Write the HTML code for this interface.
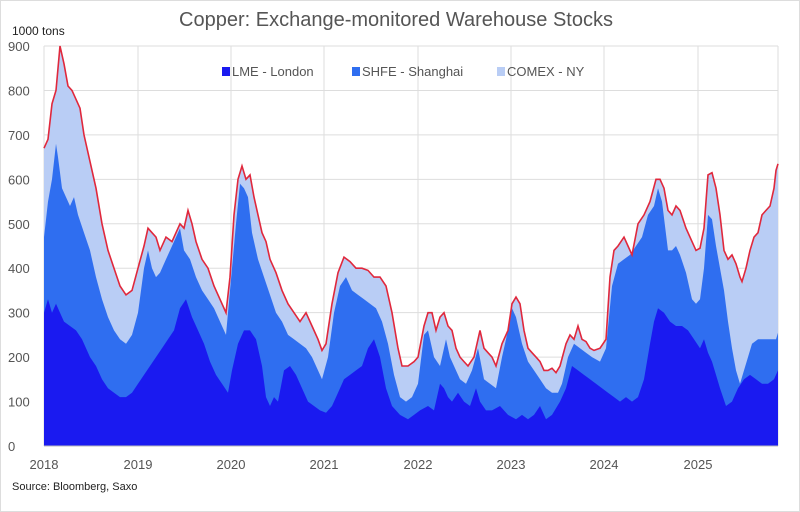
<!DOCTYPE html>
<html><head><meta charset="utf-8"><style>
body{margin:0;background:#fff;}
svg{display:block;font-family:"Liberation Sans",sans-serif;}
</style></head><body>
<svg id="s" width="800" height="512" viewBox="0 0 800 512">
<rect x="0.5" y="0.5" width="799" height="511" fill="#fff" stroke="#ddd"/>
<text x="396" y="26" text-anchor="middle" font-size="20" fill="#555">Copper: Exchange-monitored Warehouse Stocks</text>
<text x="12" y="35" font-size="12" fill="#222">1000 tons</text>
<g id="grid" stroke="#ddd" stroke-width="1"></g>
<g id="areas"></g>
<g font-size="13" fill="#555" id="labels"></g>
<g font-size="13" fill="#555">
<rect x="222" y="67" width="8" height="9" fill="#1a1af0"/><text x="232" y="76">LME - London</text>
<rect x="352" y="67" width="8" height="9" fill="#2f6ef0"/><text x="362" y="76">SHFE - Shanghai</text>
<rect x="497" y="67" width="8" height="9" fill="#b9cdf5"/><text x="507" y="76">COMEX - NY</text>
</g>
<text x="12" y="490" font-size="11" fill="#222">Source: Bloomberg, Saxo</text>
</svg>
<script>
const X0=44,Y0=446,K=400/900;
const yv=v=>Y0-v*K;
function P(s){return s.trim().split(/\s+/).map(p=>p.split(':').map(Number));}
const tot=P(`44:670 48:690 52:770 56:800 60:900 64:860 68:810 72:800 76:780 80:760 84:700 90:640 96:580 102:500 108:440 114:400 120:360 126:340 132:350 138:400 144:450 148:490 152:480 156:470 160:440 166:470 172:460 176:480 180:500 184:490 188:530 192:500 196:460 202:420 208:400 214:360 220:330 226:300 230:380 234:520 238:600 242:630 246:600 250:610 254:560 258:520 262:480 266:460 270:420 276:390 282:350 288:320 294:300 300:280 306:300 312:270 318:240 322:215 326:230 332:320 338:390 344:425 350:415 356:400 362:400 368:395 374:380 380:380 386:360 392:300 398:220 402:180 408:180 414:190 418:200 424:270 428:300 432:300 436:260 440:290 444:300 448:270 452:260 456:220 460:200 464:190 468:180 474:200 480:260 484:220 488:210 492:200 496:180 502:230 508:260 512:320 516:335 520:320 524:260 528:220 532:210 536:200 540:190 544:170 548:170 552:175 556:165 560:180 566:230 570:250 574:240 578:270 582:240 586:235 590:220 594:215 600:220 606:240 610:380 614:440 618:450 624:470 628:450 632:430 638:500 644:520 650:550 656:600 660:600 664:580 668:530 672:520 676:540 680:530 686:490 692:460 696:440 700:445 704:490 708:610 712:615 716:580 720:520 724:440 728:420 732:430 736:410 740:380 742:370 746:400 750:440 754:470 758:480 762:520 766:530 770:540 774:580 776:620 778:635`);
const mid=P(`44:470 48:550 52:600 56:680 58:650 62:580 66:560 70:540 74:560 78:520 84:480 90:440 96:380 102:330 108:290 114:260 120:240 126:230 132:250 138:300 144:400 148:440 152:400 156:380 160:390 166:420 172:450 176:470 180:490 184:440 190:420 196:380 202:350 208:330 214:310 220:280 226:250 230:350 236:500 240:590 244:580 248:560 252:480 258:420 264:380 270:340 276:300 282:280 288:250 294:240 300:230 306:220 312:200 318:170 322:150 328:200 334:300 340:360 346:380 352:350 358:340 364:330 370:320 376:310 382:280 388:230 394:160 400:110 406:100 412:110 418:140 424:250 428:260 434:200 440:180 446:240 450:200 454:180 460:150 466:140 472:170 478:220 484:150 490:140 496:130 502:200 506:240 512:310 516:290 522:230 528:190 534:170 540:150 546:130 552:120 558:120 562:140 568:200 574:230 580:220 586:210 592:200 600:190 606:220 612:360 618:410 624:420 630:430 636:450 642:470 648:520 654:540 658:580 662:550 668:440 672:440 676:450 680:430 686:390 692:330 696:320 700:330 704:400 708:520 712:510 716:450 720:400 724:350 728:280 732:220 736:170 740:140 744:170 748:200 752:230 758:240 764:240 770:240 776:240 778:255`);
const lme=P(`44:300 48:330 52:300 56:320 60:300 64:280 70:270 76:260 82:240 90:200 96:180 102:150 108:130 114:120 120:110 126:110 132:120 138:140 144:160 150:180 156:200 162:220 168:240 174:260 180:310 186:330 192:290 198:260 204:230 210:190 216:160 222:140 228:120 232:170 238:230 244:260 250:260 256:240 262:180 266:110 270:90 274:110 278:100 284:170 290:180 296:160 302:130 308:100 314:90 320:80 326:75 332:90 338:120 344:150 350:160 356:170 362:180 368:220 374:240 380:200 386:130 392:90 400:70 408:60 414:70 420:80 428:90 434:80 440:140 444:130 448:110 452:100 458:120 464:100 470:90 476:130 480:100 486:80 492:80 500:90 508:70 516:60 522:70 528:60 534:70 540:90 546:60 552:70 560:100 566:130 572:180 578:170 584:160 590:150 596:140 602:130 608:120 614:110 620:100 626:110 632:100 638:110 644:150 650:230 654:280 658:310 664:300 670:280 676:270 682:270 688:260 694:240 700:220 704:240 708:210 712:190 716:160 720:130 726:90 732:100 738:130 744:150 750:160 756:150 762:140 768:140 774:150 778:170`);
const ns="http://www.w3.org/2000/svg";
function el(t,a,p){const e=document.createElementNS(ns,t);for(const k in a)e.setAttribute(k,a[k]);document.getElementById(p).appendChild(e);return e;}
const g='grid';
for(let v=0;v<=900;v+=100){el('line',{x1:X0,x2:778,y1:yv(v),y2:yv(v)},g);const t=el('text',{x:8,y:yv(v)+5},'labels');t.textContent=v;}
const yrs=[44,138,231,324,418,511,604,698];
yrs.forEach((x,i)=>{el('line',{x1:x,x2:x,y1:yv(900),y2:Y0},g);const t=el('text',{x:x,y:469,'text-anchor':'middle'},'labels');t.textContent=2018+i;});
el('line',{x1:778,x2:778,y1:yv(900),y2:Y0},g);
function area(d,c){let s='M44,'+Y0+' '+d.map(p=>'L'+p[0]+','+yv(p[1]).toFixed(1)).join(' ')+' L778,'+Y0+'Z';el('path',{d:s,fill:c},'areas');}
area(tot,'#b9cdf5');area(mid,'#2f6ef0');area(lme,'#1a1af0');
el('path',{d:'M'+tot.map(p=>p[0]+','+yv(p[1]).toFixed(1)).join(' L'),fill:'none',stroke:'#e0283c','stroke-width':1.6},'areas');
el('line',{x1:X0,x2:778,y1:Y0,y2:Y0,stroke:'#bbb'},'areas');
</script>
</body></html>
